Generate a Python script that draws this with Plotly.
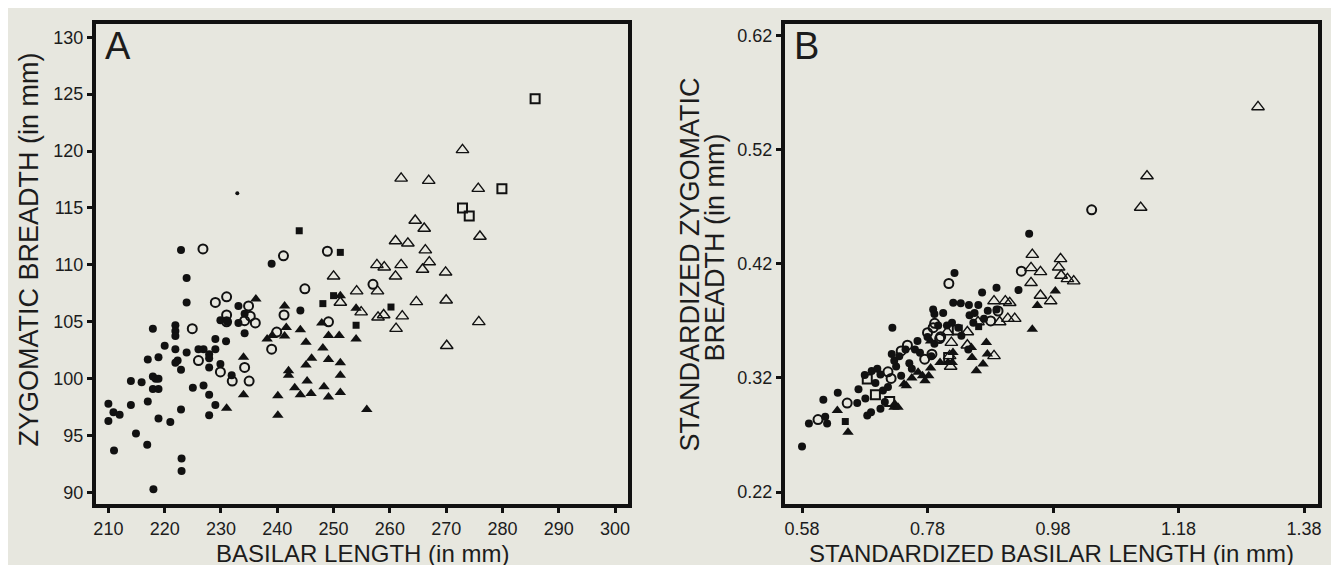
import plotly.graph_objects as go

# ---------------- Panel A data: basilar length vs zygomatic breadth (mm) ----------------
a_fc_x = [210.0, 210.0, 210.9, 212.0, 211.0, 214.0, 214.0, 214.9, 215.9, 216.9, 217.0, 217.0,
          217.9, 217.9, 218.4, 218.9, 217.9, 218.9, 218.9, 218.9, 218.0, 220.0, 221.0, 221.9,
          221.9, 221.9, 221.9, 222.3, 221.9, 222.9, 222.9, 222.9, 223.0, 223.0, 223.9, 223.9,
          223.9, 225.0, 226.0, 226.9, 227.9, 227.9, 226.9, 227.9, 229.0, 227.9, 229.0, 229.0,
          227.9, 229.9, 230.9, 229.9, 231.1, 233.1, 233.1, 234.2, 234.2, 231.9, 239.0, 244.1]
a_fc_y = [97.8, 96.3, 97.05, 96.85, 93.7, 99.8, 97.7, 95.2, 99.7, 94.2, 101.7, 98.0,
          104.4, 100.2, 100.0, 100.0, 99.1, 99.1, 101.9, 96.5, 90.3, 102.9, 96.2, 104.7,
          104.2, 103.75, 102.6, 101.6, 101.4, 100.8, 97.3, 111.3, 93.0, 91.9, 102.3, 108.85,
          106.7, 99.2, 102.6, 102.6, 102.15, 101.8, 99.4, 98.6, 97.7, 96.8, 103.5, 102.6,
          101.0, 101.3, 103.3, 105.15, 105.0, 106.4, 104.9, 104.0, 105.7, 100.3, 110.1, 106.0]

a_dot_x = [232.9]
a_dot_y = [116.3]

a_oc_x = [226.8, 224.9, 226.0, 229.0, 231.0, 231.0, 231.0, 229.9, 232.0, 234.2, 235.0, 234.9,
          235.2, 236.1, 234.2, 239.0, 239.9, 241.1, 241.2, 244.9, 248.9, 249.1, 257.0]
a_oc_y = [111.4, 104.4, 101.6, 106.7, 107.2, 105.6, 105.0, 100.6, 99.8, 101.0, 99.8, 106.4,
          105.5, 104.9, 105.1, 102.6, 104.1, 110.8, 105.6, 107.9, 111.2, 105.0, 108.3]

a_ft_x = [236.2, 231.0, 234.0, 234.0, 238.2, 239.1, 241.3, 241.3, 241.6, 240.1, 240.1, 242.0,
          242.0, 244.1, 245.1, 245.1, 246.1, 243.1, 244.1, 245.3, 246.0, 248.1, 247.9, 249.1,
          249.1, 248.3, 249.1, 251.2, 251.0, 251.2, 251.2, 251.2, 254.0, 254.0, 255.9]
a_ft_y = [107.0, 97.4, 98.6, 101.9, 103.5, 103.8, 103.75, 106.4, 104.5, 98.5, 96.8, 100.7,
          100.3, 104.3, 103.2, 101.2, 101.8, 99.2, 98.6, 99.8, 98.7, 102.7, 104.9, 103.8,
          101.7, 99.3, 98.4, 107.3, 103.8, 101.4, 100.3, 98.8, 106.2, 103.5, 97.3]

a_fs_x = [243.9, 251.2, 248.1, 250.0, 254.0, 260.2]
a_fs_y = [113.0, 111.1, 106.6, 107.3, 104.7, 106.3]

a_ot_x = [272.9, 262.0, 266.9, 275.7, 276.0, 264.5, 266.1, 261.0, 263.2, 266.3, 267.0, 257.7,
          259.0, 262.0, 265.8, 261.0, 269.9, 250.0, 254.1, 257.8, 251.2, 254.9, 257.9, 258.9,
          262.2, 261.1, 264.7, 270.0, 275.8, 270.1]
a_ot_y = [120.1, 117.6, 117.4, 116.7, 112.5, 113.9, 113.2, 112.1, 111.9, 111.3, 110.25, 110.0,
          109.8, 110.0, 109.6, 109.0, 109.35, 109.0, 107.7, 107.7, 106.7, 105.85, 105.4, 105.6,
          105.5, 104.4, 106.75, 106.9, 105.0, 102.9]

a_os_x = [272.9, 274.1, 279.9, 285.8]
a_os_y = [115.0, 114.3, 116.7, 124.6]

# ---------------- Panel B data: standardized values ----------------
b_fc_x = [0.580, 0.591, 0.614, 0.617, 0.620, 0.637, 0.668, 0.670, 0.681, 0.684, 0.680, 0.690,
          0.691, 0.700, 0.705, 0.697, 0.705, 0.709, 0.712, 0.717, 0.724, 0.727, 0.723, 0.730,
          0.735, 0.738, 0.745, 0.751, 0.755, 0.760, 0.764, 0.768, 0.780, 0.786, 0.789, 0.791,
          0.791, 0.797, 0.805, 0.811, 0.819, 0.821, 0.823, 0.829, 0.833, 0.834, 0.845, 0.846,
          0.847, 0.853, 0.855, 0.861, 0.867, 0.870, 0.876, 0.890, 0.890, 0.925, 0.942]
b_fc_y = [0.260, 0.280, 0.301, 0.286, 0.280, 0.307, 0.298, 0.310, 0.302, 0.287, 0.3225, 0.290,
          0.326, 0.328, 0.323, 0.3155, 0.293, 0.309, 0.299, 0.312, 0.364, 0.335, 0.341, 0.330,
          0.339, 0.322, 0.345, 0.333, 0.328, 0.345, 0.3525, 0.342, 0.356, 0.339, 0.380, 0.350,
          0.376, 0.366, 0.377, 0.366, 0.3685, 0.386, 0.412, 0.364, 0.3855, 0.357, 0.345, 0.384,
          0.375, 0.3685, 0.377, 0.384, 0.395, 0.372, 0.379, 0.399, 0.380, 0.397, 0.4465]

b_oc_x = [0.6055, 0.652, 0.717, 0.722, 0.738, 0.748, 0.780, 0.789, 0.7914, 0.801, 0.7755,
          0.787, 0.7994, 0.814, 0.8924, 0.8807, 0.9295, 1.0416]
b_oc_y = [0.2835, 0.298, 0.3254, 0.3196, 0.3437, 0.3487, 0.3597, 0.3641, 0.3679, 0.3562, 0.3365,
          0.3408, 0.3545, 0.4028, 0.3787, 0.370, 0.4136, 0.4674]

b_ft_x = [0.6363, 0.6533, 0.7266, 0.7277, 0.733, 0.7426, 0.7463, 0.755, 0.765, 0.772, 0.776,
          0.782, 0.785, 0.7849, 0.800, 0.8127, 0.8194, 0.8206, 0.8499, 0.8509, 0.8578, 0.8685,
          0.8738, 0.8754, 0.947, 0.955, 0.9837]
b_ft_y = [0.2914, 0.2725, 0.2943, 0.2972, 0.2943, 0.3147, 0.3132, 0.320, 0.325, 0.322, 0.3175,
          0.322, 0.3287, 0.3525, 0.3336, 0.3336, 0.3336, 0.3423, 0.3467, 0.338, 0.3264, 0.3322,
          0.351, 0.3409, 0.3627, 0.3836, 0.3962]

b_fs_x = [0.649, 0.8615]
b_fs_y = [0.2818, 0.365]

b_ot_x = [0.8116, 0.818, 0.8435, 0.8169, 0.8153, 0.8435, 0.8605, 0.886, 0.886, 0.904, 0.911,
          0.908, 0.919, 0.895, 0.945, 0.947, 0.945, 0.960, 0.960, 0.9763, 0.992, 0.989, 0.993,
          1.003, 1.013, 1.1197, 1.1298, 1.3067]
b_ot_y = [0.3603, 0.351, 0.3603, 0.330, 0.3394, 0.3487, 0.3691, 0.3394, 0.3874, 0.3874, 0.3859,
          0.372, 0.372, 0.3691, 0.4034, 0.4281, 0.4165, 0.413, 0.3923, 0.3874, 0.4244, 0.417, 0.4098,
          0.4069, 0.4049, 0.4694, 0.497, 0.5576]

b_os_x = [0.684, 0.697, 0.7197, 0.8275, 0.8137]
b_os_y = [0.319, 0.3053, 0.2993, 0.3621, 0.338]

a_xticks = [210, 220, 230, 240, 250, 260, 270, 280, 290, 300]
a_yticks = [90, 95, 100, 105, 110, 115, 120, 125, 130]
b_xticks = [0.58, 0.78, 0.98, 1.18, 1.38]
b_yticks = [0.22, 0.32, 0.42, 0.52, 0.62]

INK = "#111111"
TXT = "#1c1c1c"
BG = "#e7e7df"
FONT = "Liberation Sans, Arial, sans-serif"

W, H = 1339, 565
ML, MR, MT, MB = 88, 29, 13, 69


def px_x(px):
    return (px - ML) / (W - ML - MR)


def px_y(py):
    return (H - MB - py) / (H - MT - MB)


fig = go.Figure()


def add(x, y, symbol, size, lw, axes):
    xa, ya = axes
    fig.add_trace(go.Scatter(
        x=x, y=y, mode="markers", xaxis=xa, yaxis=ya, showlegend=False, hoverinfo="skip",
        marker=dict(symbol=symbol, size=size, color=INK, line=dict(width=lw, color=INK)),
    ))


for axes, sets in [
    (("x", "y"), [
        (a_ot_x, a_ot_y, "triangle-up-open", 11, 1.4),
        (a_os_x, a_os_y, "square-open", 9, 2.0),
        (a_oc_x, a_oc_y, "circle-open", 9, 2.0),
        (a_fc_x, a_fc_y, "circle", 8, 0),
        (a_ft_x, a_ft_y, "triangle-up", 10, 0),
        (a_fs_x, a_fs_y, "square", 7, 0),
        (a_dot_x, a_dot_y, "circle", 4, 0),
    ]),
    (("x2", "y2"), [
        (b_ot_x, b_ot_y, "triangle-up-open", 11, 1.4),
        (b_os_x, b_os_y, "square-open", 9, 2.0),
        (b_oc_x, b_oc_y, "circle-open", 9, 2.0),
        (b_fc_x, b_fc_y, "circle", 8, 0),
        (b_ft_x, b_ft_y, "triangle-up", 10, 0),
        (b_fs_x, b_fs_y, "square", 7, 0),
    ]),
]:
    for (x, y, s, sz, lw) in sets:
        add(x, y, s, sz, lw, axes)

axis_common = dict(
    showline=True, mirror=True, linecolor=INK, linewidth=4,
    ticks="outside", ticklen=5, tickwidth=3, tickcolor=INK,
    showgrid=False, zeroline=False,
    tickfont=dict(family=FONT, size=18, color=TXT),
)

fig.update_layout(
    width=W, height=H,
    margin=dict(l=ML, r=MR, t=MT, b=MB),
    paper_bgcolor=BG, plot_bgcolor=BG,
    xaxis=dict(domain=[0, px_x(620)], range=[207.8, 302.3], tickvals=a_xticks,
               ticktext=[str(v) for v in a_xticks], anchor="y", **axis_common),
    yaxis=dict(domain=[0, 1], range=[89.0, 131.16], tickvals=a_yticks,
               ticktext=[str(v) for v in a_yticks], anchor="x", **axis_common),
    xaxis2=dict(domain=[px_x(777), 1], range=[0.5529, 1.4023], tickvals=b_xticks,
                ticktext=[f"{v:.2f}" for v in b_xticks], anchor="y2", **axis_common),
    yaxis2=dict(domain=[0, 1], range=[0.2095, 0.6303], tickvals=b_yticks,
                ticktext=[f"{v:.2f}" for v in b_yticks], anchor="x2", **axis_common),
)

xt_font = dict(family=FONT, size=24, color=TXT)
yt_font = dict(family=FONT, size=27, color=TXT)
annotations = [
    dict(text="A", x=px_x(95), y=px_y(12), xanchor="left", yanchor="top",
         font=dict(family=FONT, size=38, color=TXT)),
    dict(text="B", x=px_x(784), y=px_y(12), xanchor="left", yanchor="top",
         font=dict(family=FONT, size=38, color=TXT)),
    dict(text="BASILAR LENGTH (in mm)", x=px_x(354), y=px_y(546), xanchor="center",
         yanchor="middle", font=xt_font),
    dict(text="STANDARDIZED BASILAR LENGTH (in mm)", x=px_x(1043), y=px_y(546),
         xanchor="center", yanchor="middle", font=xt_font),
    dict(text="ZYGOMATIC BREADTH (in mm)", x=px_x(21), y=px_y(240), textangle=-90,
         xanchor="center", yanchor="middle", font=yt_font),
    dict(text="STANDARDIZED ZYGOMATIC", x=px_x(682), y=px_y(255), textangle=-90,
         xanchor="center", yanchor="middle", font=yt_font),
    dict(text="BREADTH (in mm)", x=px_x(707), y=px_y(238), textangle=-90,
         xanchor="center", yanchor="middle", font=yt_font),
]
for a in annotations:
    a.update(xref="paper", yref="paper", showarrow=False)
fig.update_layout(annotations=annotations)

fig.write_html("out.html")
